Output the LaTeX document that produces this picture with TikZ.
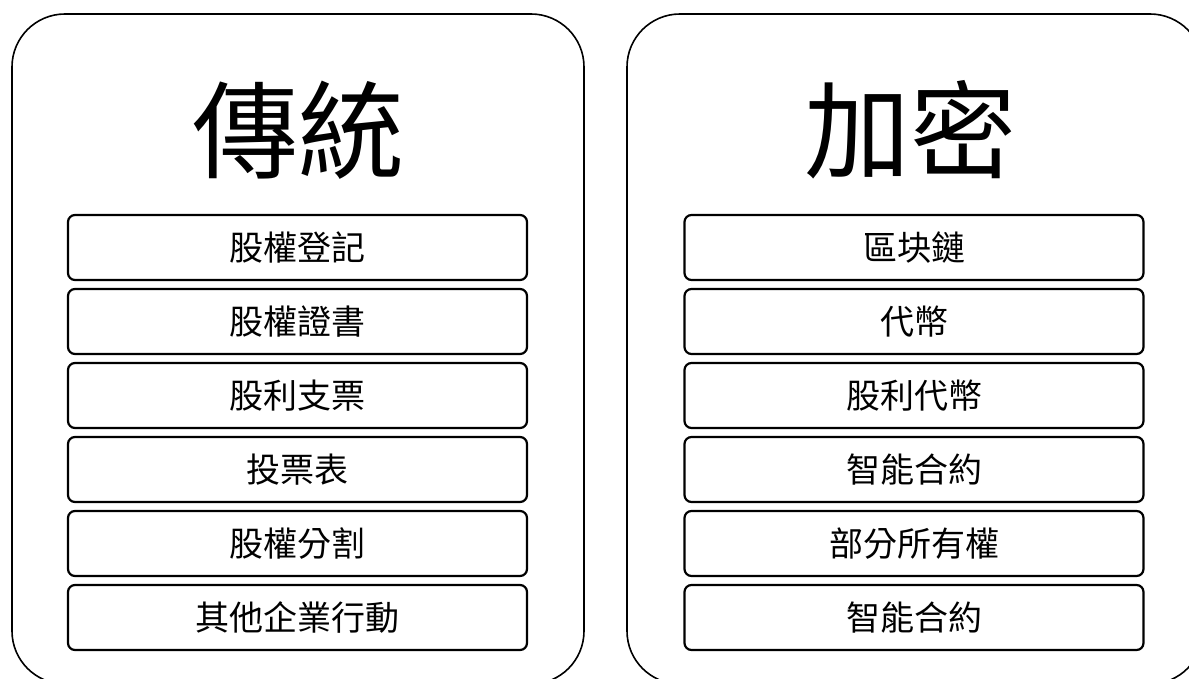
\documentclass[tikz,border=0pt]{standalone}
\usepackage{fontspec}
\newfontfamily\cjk{Noto Sans CJK TC}
\begin{document}
\begin{tikzpicture}[x=1pt,y=-1pt,
  panel/.style={draw=black,line width=1.6pt,rounded corners=53pt},
  item/.style={draw=black,line width=2.2pt,rounded corners=7pt,minimum width=459pt,minimum height=65pt,inner sep=0pt,font=\cjk\fontsize{34}{34}\selectfont},
  heading/.style={inner sep=0pt,font=\cjk\fontsize{106}{106}\selectfont}]
\useasboundingbox (0,0) rectangle (1189,679);
\clip (0,0) rectangle (1189,679);
\draw[panel] (12,14) rectangle (584,684);
\draw[panel] (627,14) rectangle (1203,684);
\node[heading] (t1) at (298,130) {傳統};
\node[heading] (t2) at (910,130) {加密};
\foreach \i/\txt in {0/股權登記,1/股權證書,2/股利支票,3/投票表,4/股權分割,5/其他企業行動}{
  \node[item] (l\i) at (297.5,{247.5+74*\i}) {\txt};
}
\foreach \i/\txt in {0/區块鏈,1/代幣,2/股利代幣,3/智能合約,4/部分所有權,5/智能合約}{
  \node[item] (r\i) at (914,{247.5+74*\i}) {\txt};
}
\end{tikzpicture}
\end{document}
